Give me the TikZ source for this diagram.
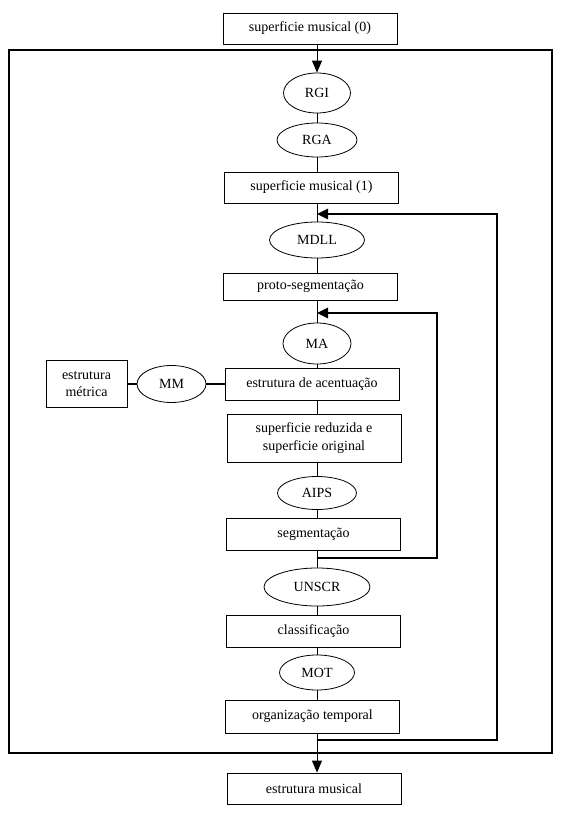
\documentclass[tikz,border=0pt]{standalone}
\usepackage{fontspec}
\setmainfont{Liberation Serif}
\usetikzlibrary{arrows.meta,shapes.geometric}
\begin{document}
\begin{tikzpicture}[x=1pt,y=-1pt,
  txt/.style={font=\fontsize{14}{17.5}\selectfont},
  box/.style={txt, draw, line width=0.8pt, fill=white, minimum width=174pt, minimum height=32pt, inner sep=0pt, align=center},
  oval/.style={txt, draw, ellipse, line width=0.8pt, fill=white, inner sep=0pt},
  link/.style={line width=0.9pt},
  arr/.style={line width=0.9pt, -{Triangle[length=12pt,width=10pt]}},
  fb/.style={line width=2.5pt, -{Triangle[length=11pt,width=10pt]}},
  thickl/.style={line width=2.8pt}]
\useasboundingbox (0,0) rectangle (563,813);
\draw[line width=1.2pt] (9,50) rectangle (552,753);

\node[box, minimum height=31pt] (b0) at (310,28.5) {superficie musical (0)};
\node[oval, minimum width=67pt, minimum height=40pt] (rgi) at (317,93) {RGI};
\node[oval, minimum width=80pt, minimum height=34pt] (rga) at (317,140) {RGA};
\node[box, minimum height=31pt] (b1) at (311.5,187.5) {superficie musical (1)};
\node[oval, minimum width=95pt, minimum height=36pt] (mdll) at (317,240) {MDLL};
\node[box, minimum height=27pt] (proto) at (310.5,286.5) {proto-segmentação};
\node[oval, minimum width=68pt, minimum height=41pt] (ma) at (317,343.5) {MA};
\node[box, minimum height=32pt] (acent) at (312,384) {estrutura de acentuação};
\node[box, minimum width=81pt, minimum height=47pt] (metrica) at (86.5,384) {estrutura\\métrica};
\node[oval, minimum width=69pt, minimum height=37pt] (mm) at (171.5,384) {MM};
\node[box, minimum height=48pt] (reduz) at (314,438) {superficie reduzida e\\superficie original};
\node[oval, minimum width=79pt, minimum height=33pt] (aips) at (317,493) {AIPS};
\node[box, minimum height=32pt] (segm) at (313.5,534) {segmentação};
\node[oval, minimum width=106pt, minimum height=38pt] (unscr) at (317,587) {UNSCR};
\node[box, minimum height=32pt] (classif) at (313.5,631) {classificação};
\node[oval, minimum width=75pt, minimum height=35pt] (mot) at (317,672.5) {MOT};
\node[box, minimum height=33pt] (org) at (312.5,716.5) {organização temporal};
\node[box, minimum height=31pt] (musical) at (314,788.5) {estrutura musical};

\coordinate (spine) at (317,0);
\coordinate (fbo) at (317,740);
\coordinate (or1) at (497,740);
\coordinate (or2) at (497,214);
\coordinate (oin) at (317,214);
\coordinate (fbi) at (317,558);
\coordinate (ir1) at (437,558);
\coordinate (ir2) at (437,313);
\coordinate (iin) at (317,313);

\draw[arr] (b0.south -| spine) -- (rgi.north);
\draw[link] (rgi) -- (rga);
\draw[link] (rga) -- (b1.north -| spine);
\draw[link] (b1.south -| spine) -- (mdll);
\draw[link] (mdll) -- (proto.north -| spine);
\draw[link] (proto.south -| spine) -- (ma);
\draw[link] (ma) -- (acent.north -| spine);
\draw[link] (acent.south -| spine) -- (reduz.north -| spine);
\draw[link] (reduz.south -| spine) -- (aips);
\draw[link] (aips) -- (segm.north -| spine);
\draw[link] (segm.south -| spine) -- (unscr);
\draw[link] (unscr) -- (classif.north -| spine);
\draw[link] (classif.south -| spine) -- (mot);
\draw[link] (mot) -- (org.north -| spine);
\draw[arr] (org.south -| spine) -- (musical.north -| spine);

\draw[thickl] (metrica.east) -- (mm.west);
\draw[thickl] (mm.east) -- (acent.west);

\draw[fb] (fbo) -- (or1) -- (or2) -- (oin);
\draw[fb] (fbi) -- (ir1) -- (ir2) -- (iin);
\end{tikzpicture}
\end{document}
